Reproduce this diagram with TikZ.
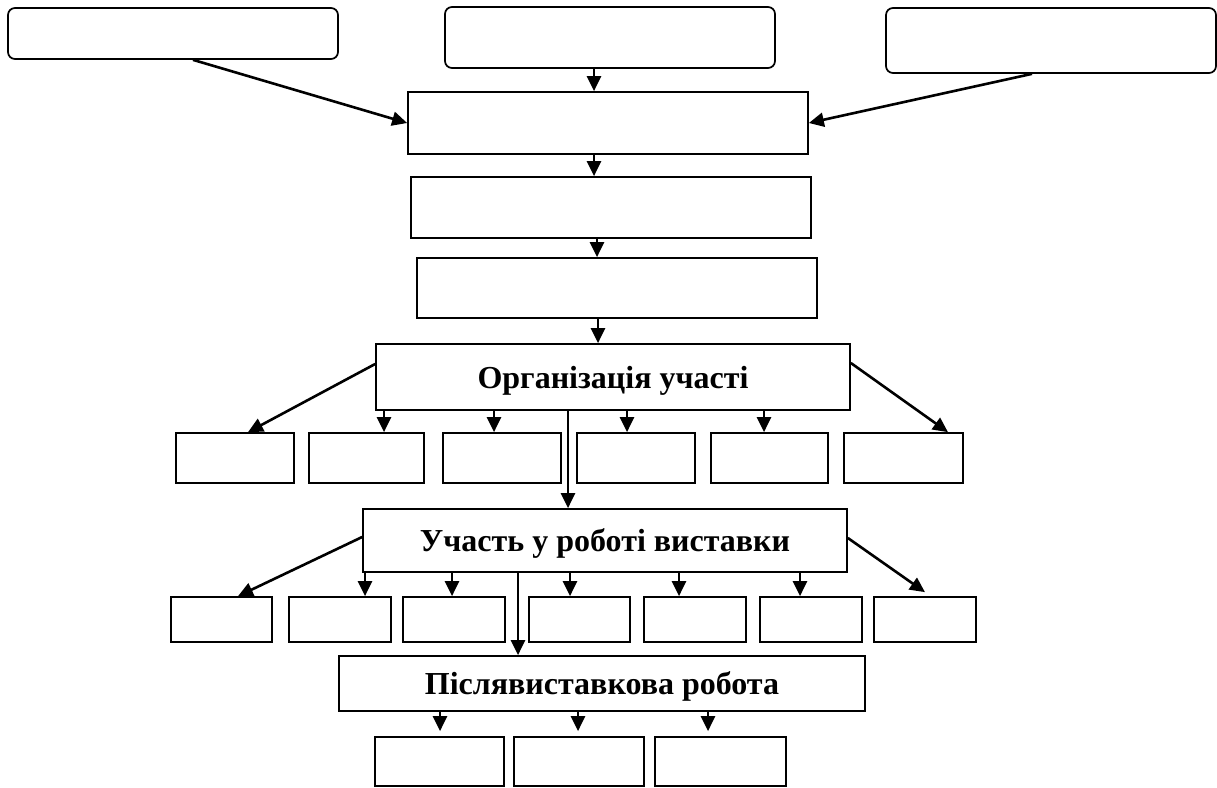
\documentclass[tikz,border=0pt]{standalone}
\usepackage{fontspec}
\setmainfont{Liberation Serif}
\usepackage{tikz}
\usetikzlibrary{arrows.meta}
\usetikzlibrary{positioning,calc}

\begin{document}
\begin{tikzpicture}[x=1pt, y=-1pt, every node/.style = {draw, line width=1.7pt, inner sep=0pt, align=center, text depth=0pt, font=\fontsize{32}{38}\selectfont\bfseries}]
        \tikzstyle{rbox}=[rounded corners=7pt, minimum width=330pt]
        \tikzstyle{wide}=[minimum width=400pt]
        \tikzstyle{arr}=[line width=2.6pt, -{Triangle[length=15pt,width=14pt]}]
        \useasboundingbox (0,0) rectangle (1217,787);
        % top rows
        \node[rbox, minimum height=51pt] (src1) at (173,33.5) {};
        \node[rbox, minimum height=61pt] (src2) at (610,37.5) {};
        \node[rbox, minimum height=65pt] (src3) at (1051,40.5) {};
        \node[wide, minimum height=62pt] (stage1) at (608,123) {};
        \node[wide, minimum height=61pt] (stage2) at (611,207.5) {};
        \node[wide, minimum height=60pt] (stage3) at (617,288) {};
        % main stages
        \node[minimum width=474pt, minimum height=66pt] (org) at (613,377) {Організація участі};
        \node[minimum width=484pt, minimum height=63pt] (part) at (605,540.5) {Участь у роботі виставки};
        \node[minimum width=526pt, minimum height=55pt] (post) at (602,683.5) {Післявиставкова робота};
        % small boxes
        \foreach \n/\x/\w in {1/235/118, 2/366.5/115, 3/502/118, 4/636/118, 5/769.5/117, 6/903.5/119}
            \node[minimum width=\w pt, minimum height=50pt] (o\n) at (\x,458) {};
        \foreach \n/\x/\w in {1/221.5/101, 2/340/102, 3/454/102, 4/579.5/101, 5/695/102, 6/811/102, 7/925/102}
            \node[minimum width=\w pt, minimum height=45pt] (p\n) at (\x,619.5) {};
        \foreach \n/\x/\w in {1/439.5/129, 2/579/130, 3/720.5/131}
            \node[minimum width=\w pt, minimum height=49pt] (s\n) at (\x,761.5) {};
        % arrows
        \draw[arr] ([xshift=20pt]src1.south) -- (stage1.west);
        \draw[arr] ([xshift=-19pt]src3.south) -- (stage1.east);
        \draw[arr] (src2.south -| 594,0) -- (stage1.north -| 594,0);
        \draw[arr] (stage1.south -| 594,0) -- (stage2.north -| 594,0);
        \draw[arr] (stage2.south -| 597,0) -- (stage3.north -| 597,0);
        \draw[arr] (stage3.south -| 598,0) -- (org.north -| 598,0);
        \draw[arr] ([yshift=13pt]org.west) -- ([xshift=13pt]o1.north);
        \draw[arr] ([yshift=14pt]org.east) -- ([xshift=44.5pt]o6.north);
        \foreach \n/\x in {2/384, 3/494, 4/627, 5/764}
            \draw[arr] (org.south -| \x,0) -- (o\n.north -| \x,0);
        \draw[arr] (org.south -| 568,0) -- (part.north -| 568,0);
        \draw[arr] ([yshift=3.5pt]part.west) -- ([xshift=16.5pt]p1.north);
        \draw[arr] ([yshift=2.5pt]part.east) -- ([yshift=4pt]p7.north);
        \foreach \n/\x in {2/365, 3/452, 4/570, 5/679, 6/800}
            \draw[arr] (part.south -| \x,0) -- (p\n.north -| \x,0);
        \draw[arr] (part.south -| 518,0) -- (post.north -| 518,0);
        \foreach \n/\x in {1/440, 2/578, 3/708}
            \draw[arr] (post.south -| \x,0) -- ([yshift=5pt]s\n.north -| \x,0);
    \end{tikzpicture}
\end{document}
